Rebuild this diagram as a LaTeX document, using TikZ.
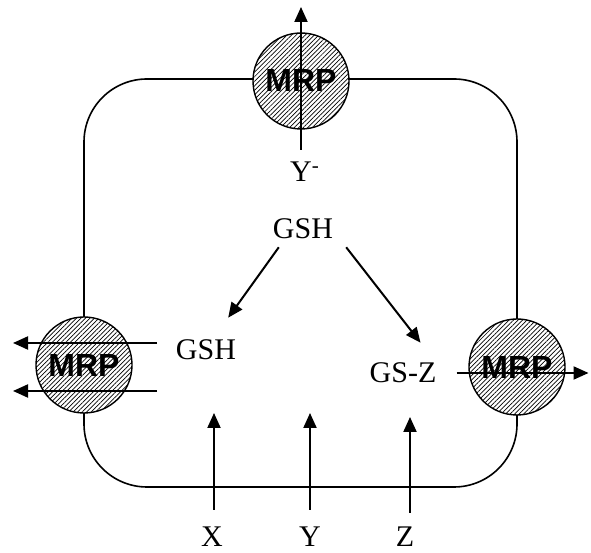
\documentclass[tikz,border=0pt]{standalone}
\usepackage{fontspec}
\setmainfont{Liberation Serif}
\newfontfamily\mrpfont{Liberation Sans}
\usetikzlibrary{arrows.meta,patterns.meta,positioning}

\begin{document}
\begin{tikzpicture}[x=1pt, y=1pt,
  cell/.style={line width=1.6pt, rounded corners=63pt},
  mrp/.style={circle, draw, line width=1.4pt, minimum size=96pt, inner sep=0pt,
              preaction={fill=white},
              pattern={Lines[angle=45, distance=3.2pt, line width=0.7pt]},
              font=\mrpfont\bfseries\fontsize{32}{32}\selectfont},
  lbl/.style={font=\fontsize{30}{30}\selectfont, inner sep=2pt},
  arr/.style={-{Triangle[length=15pt, width=13pt]}, line width=2pt}]
\useasboundingbox (0,0) rectangle (591,553);
% cell membrane
\draw[cell] (84,66) rectangle (517,474);
% transporters
\node[mrp] (mrpT) at (301,472) {MRP};
\node[mrp] (mrpL) at (84,188) {MRP};
\node[mrp] (mrpR) at (517,186) {MRP};
% labels
\node[lbl, anchor=base] (ylab) at (301,371) {Y\rlap{\textsuperscript{-}}};
\node[lbl] (gshtop) at (303,324) {GSH};
\node[lbl] (gshleft) at (206,203) {GSH};
\node[lbl] (gsz) at (403,180) {GS-Z};
\node[lbl] (xin) at (212,16) {X};
\node[lbl] (yin) at (310,16) {Y};
\node[lbl] (zin) at (405,16) {Z};
% fluxes
\draw[arr] ([yshift=32pt]ylab.base) -- ++(0,143);
\draw[arr] ([xshift=8pt, yshift=-6pt]gshtop.south west) -- ([xshift=-10pt, yshift=20pt]gshleft.north east);
\draw[arr] ([xshift=11pt, yshift=-6pt]gshtop.south east) -- ([xshift=-18pt, yshift=18pt]gsz.north east);
\draw[arr] ([shift={(73,22)}]mrpL.center) -- ([shift={(-71,22)}]mrpL.center);
\draw[arr] ([shift={(73,-26)}]mrpL.center) -- ([shift={(-71,-26)}]mrpL.center);
\draw[arr] ([xshift=18pt]gsz.east) -- ++(132,0);
\draw[arr] ([xshift=2pt, yshift=15pt]xin.north) -- ++(0,97);
\draw[arr] ([yshift=15pt]yin.north) -- ++(0,97);
\draw[arr] ([xshift=5pt, yshift=12pt]zin.north) -- ++(0,96);
\end{tikzpicture}
\end{document}
